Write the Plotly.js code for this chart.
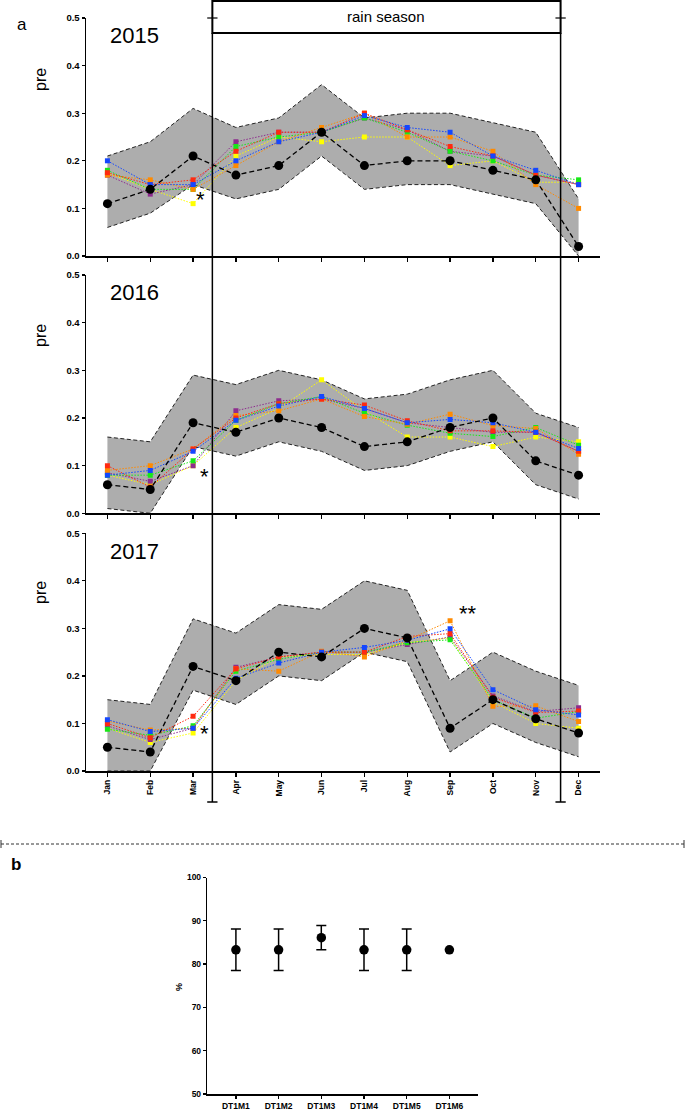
<!DOCTYPE html>
<html><head><meta charset="utf-8">
<script src="https://cdn.plot.ly/plotly-3.0.1.min.js"></script>
<style>html,body{margin:0;padding:0;background:#fff}#chart{width:685px;height:1110px}</style>
</head><body><div id="chart"></div>
<script>
const months = ['Jan','Feb','Mar','Apr','May','Jun','Jul','Aug','Sep','Oct','Nov','Dec'];
const years = ['2015','2016','2017'];

const upper2015 = [0.21,0.24,0.31,0.27,0.29,0.36,0.29,0.30,0.30,0.28,0.26,0.12];
const lower2015 = [0.06,0.09,0.15,0.12,0.14,0.21,0.14,0.15,0.15,0.13,0.11,0.00];
const mean2015  = [0.11,0.14,0.21,0.17,0.19,0.26,0.19,0.20,0.20,0.18,0.16,0.02];
const blue2015   = [0.20,0.15,0.15,0.20,0.24,0.26,0.295,0.27,0.26,0.21,0.18,0.15];
const green2015  = [0.18,0.14,0.14,0.23,0.25,0.26,0.29,0.26,0.22,0.20,0.17,0.16];
const orange2015 = [0.17,0.16,0.14,0.19,0.24,0.27,0.30,0.25,0.25,0.22,0.15,0.10];
const red2015    = [0.175,0.15,0.16,0.22,0.26,0.26,0.30,0.265,0.23,0.21,0.17,0.15];
const purple2015 = [0.17,0.13,0.15,0.24,0.26,0.26,0.29,0.265,0.22,0.21,0.17,0.15];
const yellow2015 = [0.175,0.14,0.11,0.21,0.25,0.24,0.25,0.25,0.19,0.20,0.155,0.155];

const upper2016 = [0.16,0.15,0.29,0.27,0.30,0.28,0.24,0.25,0.28,0.30,0.21,0.18];
const lower2016 = [0.01,0.00,0.14,0.12,0.15,0.13,0.09,0.10,0.13,0.15,0.06,0.03];
const mean2016  = [0.06,0.05,0.19,0.17,0.20,0.18,0.14,0.15,0.18,0.20,0.11,0.08];
const blue2016   = [0.08,0.09,0.13,0.195,0.225,0.245,0.22,0.19,0.197,0.19,0.17,0.136];
const green2016  = [0.08,0.08,0.11,0.195,0.23,0.245,0.21,0.185,0.168,0.161,0.18,0.143];
const orange2016 = [0.09,0.10,0.135,0.205,0.215,0.24,0.203,0.187,0.208,0.184,0.178,0.124];
const red2016    = [0.10,0.055,0.135,0.20,0.23,0.24,0.227,0.194,0.173,0.173,0.17,0.13];
const purple2016 = [0.085,0.067,0.10,0.215,0.236,0.24,0.22,0.19,0.18,0.17,0.17,0.13];
const yellow2016 = [0.08,0.06,0.10,0.18,0.22,0.28,0.215,0.16,0.16,0.14,0.16,0.15];

const upper2017 = [0.15,0.14,0.32,0.29,0.35,0.34,0.40,0.38,0.19,0.25,0.21,0.18];
const lower2017 = [0.00,0.00,0.17,0.14,0.20,0.19,0.25,0.23,0.04,0.10,0.06,0.03];
const mean2017  = [0.05,0.04,0.22,0.19,0.25,0.24,0.30,0.28,0.09,0.15,0.11,0.08];
const blue2017   = [0.108,0.083,0.09,0.195,0.227,0.25,0.26,0.275,0.299,0.171,0.129,0.118];
const green2017  = [0.088,0.075,0.095,0.21,0.235,0.25,0.25,0.27,0.276,0.15,0.111,0.125];
const orange2017 = [0.105,0.086,0.09,0.215,0.21,0.252,0.24,0.275,0.316,0.136,0.137,0.104];
const red2017    = [0.10,0.07,0.115,0.215,0.24,0.25,0.25,0.283,0.289,0.155,0.123,0.126];
const purple2017 = [0.095,0.066,0.09,0.218,0.24,0.25,0.25,0.266,0.282,0.158,0.125,0.133];
const yellow2017 = [0.09,0.06,0.08,0.19,0.24,0.245,0.245,0.27,0.28,0.145,0.10,0.09];

const sites = ['DT1M1','DT1M2','DT1M3','DT1M4','DT1M5','DT1M6'];
const pct = [83.3,83.3,86.1,83.3,83.3,83.3];
const pctErr = [4.8,4.8,2.8,4.8,4.8,0];

const W = 685, H = 1110;
const px = x => x / W;
const py = y => 1 - y / H;
const FONT = 'Liberation Sans, Arial, sans-serif';

const seriesColors = {blue:'#1447ff', green:'#17e817', orange:'#ff8a00', red:'#ff2a10', purple:'#8e2c8e', yellow:'#ffff00'};
const panelData = [
  {upper:upper2015, lower:lower2015, mean:mean2015, blue:blue2015, green:green2015, orange:orange2015, red:red2015, purple:purple2015, yellow:yellow2015},
  {upper:upper2016, lower:lower2016, mean:mean2016, blue:blue2016, green:green2016, orange:orange2016, red:red2016, purple:purple2016, yellow:yellow2016},
  {upper:upper2017, lower:lower2017, mean:mean2017, blue:blue2017, green:green2017, orange:orange2017, red:red2017, purple:purple2017, yellow:yellow2017}
];

const traces = [];
panelData.forEach((d, i) => {
  const xa = i === 0 ? 'x' : 'x' + (i + 1);
  const ya = i === 0 ? 'y' : 'y' + (i + 1);
  traces.push({x: months, y: d.lower, xaxis: xa, yaxis: ya, mode: 'lines', showlegend: false,
    line: {color: '#222', width: 1, dash: '4px,2.5px'}, hoverinfo: 'skip'});
  traces.push({x: months, y: d.upper, xaxis: xa, yaxis: ya, mode: 'lines', showlegend: false, fill: 'tonexty',
    fillcolor: '#adadad', line: {color: '#222', width: 1, dash: '4px,2.5px'}, hoverinfo: 'skip'});
  ['yellow','purple','green','orange','red','blue'].forEach(c => {
    traces.push({x: months, y: d[c], xaxis: xa, yaxis: ya, mode: 'lines+markers', showlegend: false,
      line: {color: seriesColors[c], width: 1, dash: '1.5px,1.5px'},
      marker: {symbol: 'square', size: 5, color: seriesColors[c]}});
  });
  traces.push({x: months, y: d.mean, xaxis: xa, yaxis: ya, mode: 'lines+markers', showlegend: false,
    line: {color: '#000', width: 1.3, dash: '5px,3px'}, marker: {color: '#000', size: 9}});
});

// error bars only where there is a spread; markers for all sites
const errIdx = pctErr.map((e, i) => e > 0 ? i : -1).filter(i => i >= 0);
traces.push({x: errIdx.map(i => sites[i]), y: errIdx.map(i => pct[i]), xaxis: 'x4', yaxis: 'y4', mode: 'markers', showlegend: false,
  marker: {color: 'rgba(0,0,0,0)', size: 1},
  error_y: {type: 'data', array: errIdx.map(i => pctErr[i]), visible: true, color: '#000', thickness: 1.5, width: 5}});
traces.push({x: sites, y: pct, xaxis: 'x4', yaxis: 'y4', mode: 'markers', showlegend: false,
  marker: {color: '#000', size: 9.5}});

const xDom = [px(86), px(600)];
const yDoms = [[py(256), py(18)], [py(513.3), py(275)], [py(771), py(533.3)]];

function xAxis(i) {
  return {domain: xDom, anchor: i === 0 ? 'y' : 'y' + (i + 1), type: 'category', range: [-0.5, 11.5],
    categoryorder: 'array', categoryarray: months,
    showline: true, linecolor: '#000', linewidth: 1.5, ticks: 'outside', ticklen: 4, tickwidth: 1.3, tickcolor: '#000',
    showgrid: false, zeroline: false, showticklabels: i === 2, tickangle: -90,
    tickfont: {family: FONT, size: 8.5, color: '#000', weight: 'bold'}};
}
function yAxis(i) {
  return {domain: yDoms[i], anchor: i === 0 ? 'x' : 'x' + (i + 1), range: [0, 0.5], dtick: 0.1, tickformat: '.1f',
    showline: true, linecolor: '#000', linewidth: 1.5, ticks: 'outside', ticklen: 3, tickwidth: 1.3, tickcolor: '#000',
    showgrid: false, zeroline: false, tickfont: {family: FONT, size: 9.5, color: '#000', weight: 'bold'}};
}

const xL = 2.45, xR = 10.58, capU = 0.12;
const shapes = [
  {type: 'rect', xref: 'x', yref: 'paper', x0: xL, x1: xR, y0: py(33), y1: py(1), line: {color: '#000', width: 2}, fillcolor: '#fff'},
  {type: 'line', xref: 'x', yref: 'paper', x0: xL, x1: xL, y0: py(802), y1: py(33), line: {color: '#000', width: 1.5}},
  {type: 'line', xref: 'x', yref: 'paper', x0: xR, x1: xR, y0: py(802), y1: py(33), line: {color: '#000', width: 1.5}},
  {type: 'line', xref: 'x', yref: 'paper', x0: xL - capU, x1: xL + capU, y0: py(802), y1: py(802), line: {color: '#000', width: 1.5}},
  {type: 'line', xref: 'x', yref: 'paper', x0: xR - capU, x1: xR + capU, y0: py(802), y1: py(802), line: {color: '#000', width: 1.5}},
  {type: 'line', xref: 'x', yref: 'paper', x0: xL - capU, x1: xL + capU, y0: py(18), y1: py(18), line: {color: '#000', width: 1.2}},
  {type: 'line', xref: 'x', yref: 'paper', x0: xR - capU, x1: xR + capU, y0: py(18), y1: py(18), line: {color: '#000', width: 1.2}},
  {type: 'line', xref: 'paper', yref: 'paper', x0: px(1), x1: px(684), y0: py(844), y1: py(844), line: {color: '#333', width: 1, dash: '3px,2px'}},
  {type: 'line', xref: 'paper', yref: 'paper', x0: px(1), x1: px(1), y0: py(840), y1: py(848), line: {color: '#333', width: 1}},
  {type: 'line', xref: 'paper', yref: 'paper', x0: px(684), x1: px(684), y0: py(840), y1: py(848), line: {color: '#333', width: 1}}
];

const C = {xanchor: 'center', yanchor: 'middle', showarrow: false};
const annotations = [
  Object.assign({xref: 'paper', yref: 'paper', x: px(22), y: py(24), text: 'a', font: {family: FONT, size: 17, color: '#000'}}, C),
  Object.assign({xref: 'paper', yref: 'paper', x: px(16), y: py(864), text: 'b', font: {family: FONT, size: 17, color: '#000', weight: 'bold'}}, C),
  Object.assign({xref: 'x', yref: 'paper', x: (xL + xR) / 2, y: py(17), text: 'rain season', font: {family: FONT, size: 15, color: '#000'}}, C),
  Object.assign({xref: 'x', yref: 'y', x: 2.18, y: 0.118, text: '*', font: {family: FONT, size: 22, color: '#000'}}, C),
  Object.assign({xref: 'x2', yref: 'y2', x: 2.27, y: 0.077, text: '*', font: {family: FONT, size: 22, color: '#000'}}, C),
  Object.assign({xref: 'x3', yref: 'y3', x: 2.27, y: 0.078, text: '*', font: {family: FONT, size: 22, color: '#000'}}, C),
  Object.assign({xref: 'x3', yref: 'y3', x: 8.41, y: 0.332, text: '**', font: {family: FONT, size: 22, color: '#000'}}, C),
  Object.assign({xref: 'paper', yref: 'paper', x: px(179), y: py(987), text: '%', textangle: -90, font: {family: FONT, size: 9, color: '#000', weight: 'bold'}}, C)
];
const yearY = [35, 292, 551];
const preY = [80, 336, 593];
years.forEach((yr, i) => {
  annotations.push(Object.assign({xref: 'paper', yref: 'paper', x: px(134), y: py(yearY[i]), text: yr, font: {family: FONT, size: 22, color: '#000'}}, C));
  annotations.push(Object.assign({xref: 'paper', yref: 'paper', x: px(40), y: py(preY[i]), text: 'pre', textangle: -90, font: {family: FONT, size: 16, color: '#000'}}, C));
});

const layout = {
  width: W, height: H, margin: {l: 0, r: 0, t: 0, b: 0}, paper_bgcolor: '#fff', plot_bgcolor: 'rgba(0,0,0,0)',
  showlegend: false,
  xaxis: xAxis(0), yaxis: yAxis(0), xaxis2: xAxis(1), yaxis2: yAxis(1), xaxis3: xAxis(2), yaxis3: yAxis(2),
  xaxis4: {domain: [px(207.3), px(478)], anchor: 'y4', type: 'category', range: [-0.67, 5.67],
    categoryorder: 'array', categoryarray: sites,
    showline: true, linecolor: '#000', linewidth: 1.5, ticks: 'outside', ticklen: 3, tickwidth: 1.3, tickcolor: '#000',
    showgrid: false, zeroline: false, tickfont: {family: FONT, size: 8.5, color: '#000', weight: 'bold'}},
  yaxis4: {domain: [py(1094), py(877.5)], anchor: 'x4', range: [50, 100], dtick: 10,
    showline: true, linecolor: '#000', linewidth: 1.5, ticks: 'outside', ticklen: 3, tickwidth: 1.3, tickcolor: '#000',
    showgrid: false, zeroline: false, tickfont: {family: FONT, size: 8.5, color: '#000', weight: 'bold'}},
  shapes: shapes, annotations: annotations
};

Plotly.newPlot('chart', traces, layout, {displayModeBar: false, staticPlot: true});
</script>
</body></html>
